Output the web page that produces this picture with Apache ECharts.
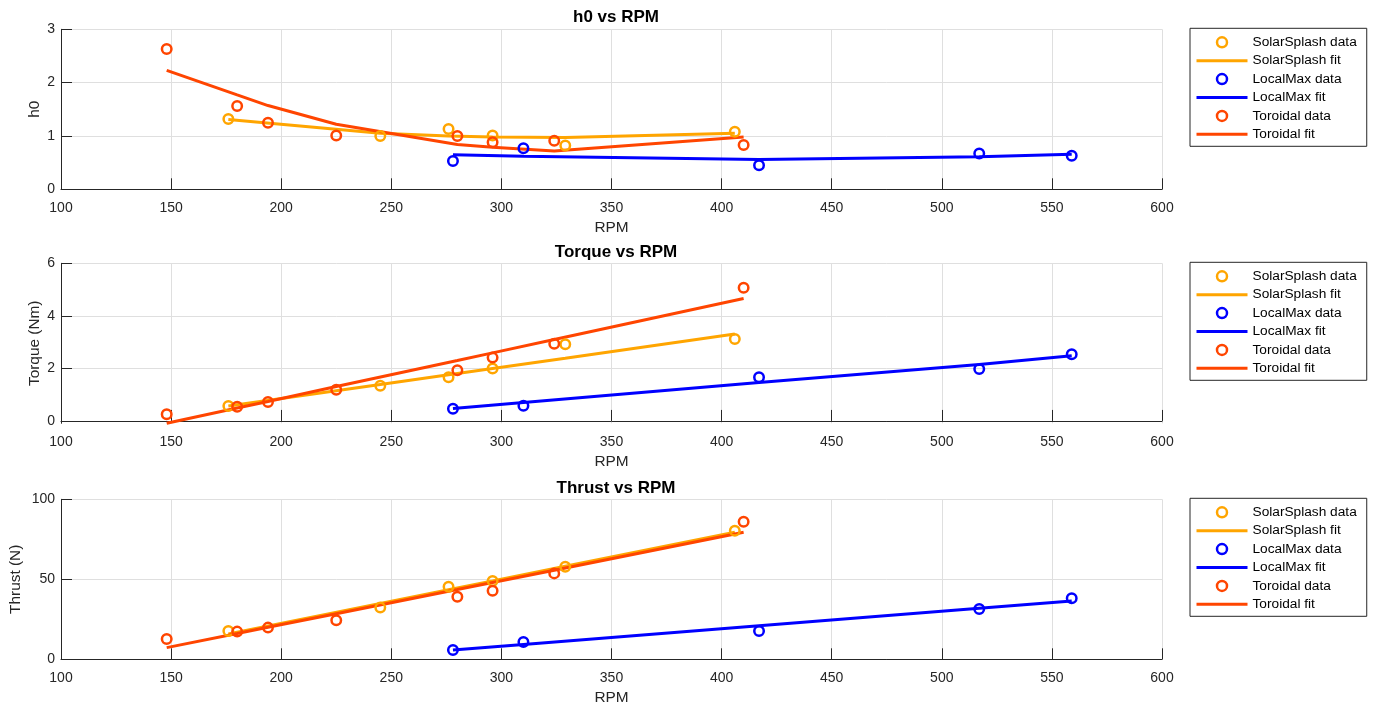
<!DOCTYPE html>
<html>
<head>
<meta charset="utf-8">
<title>h0, Torque and Thrust vs RPM</title>
<script src="https://cdn.jsdelivr.net/npm/echarts@6/dist/echarts.min.js"></script>
<style>
  html, body { margin: 0; padding: 0; background: #ffffff; }
  #chart { width: 1373px; height: 709px; }
</style>
</head>
<body>
<div id="chart"></div>
<script>
// ---- measured data ----
const rpmSolar = [176, 245, 276, 296, 329, 406];
const rpmLocal = [278, 310, 417, 517, 559];
const rpmToroidal = [148, 180, 194, 225, 280, 296, 324, 410];

const h0Solar = [1.32, 1.00, 1.13, 1.01, 0.82, 1.08];
const h0SolarFit = [1.31, 1.05, 1.00, 0.98, 0.97, 1.05];
const h0Local = [0.53, 0.77, 0.45, 0.67, 0.63];
const h0LocalFit = [0.65, 0.62, 0.56, 0.61, 0.655];
const h0Toroidal = [2.63, 1.56, 1.25, 1.01, 1.00, 0.88, 0.91, 0.83];
const h0ToroidalFit = [2.23, 1.77, 1.57, 1.22, 0.84, 0.79, 0.72, 0.98];

const torqueSolar = [0.57, 1.34, 1.66, 2.00, 2.92, 3.12];
const torqueSolarFit = [0.57, 1.39, 1.76, 2.00, 2.39, 3.31];
const torqueLocal = [0.46, 0.58, 1.66, 1.98, 2.54];
const torqueLocalFit = [0.47, 0.70, 1.46, 2.15, 2.48];
const torqueToroidal = [0.25, 0.54, 0.72, 1.19, 1.93, 2.41, 2.94, 5.07];
const torqueToroidalFit = [-0.09, 0.49, 0.74, 1.31, 2.30, 2.59, 3.10, 4.66];

const thrustSolar = [17.7, 32.3, 45.4, 48.9, 57.9, 80.4];
const thrustSolarFit = [15.8, 34.9, 43.5, 49.0, 58.2, 79.5];
const thrustLocal = [5.8, 10.8, 17.7, 31.4, 38.1];
const thrustLocalFit = [5.8, 9.3, 20.9, 31.9, 36.4];
const thrustToroidal = [12.7, 17.3, 19.8, 24.4, 39.1, 42.9, 53.7, 86.0];
const thrustToroidalFit = [7.3, 16.1, 20.0, 28.5, 43.6, 48.0, 55.7, 79.4];

const panelTitles = ['h0 vs RPM', 'Torque vs RPM', 'Thrust vs RPM'];
const yNames = ['h0', 'Torque (Nm)', 'Thrust (N)'];
const yTicks = [[0, 1, 2, 3], [0, 2, 4, 6], [0, 50, 100]];

// ---- styling ----
const FONT = '"Liberation Sans", Arial, Helvetica, sans-serif';
const INK = '#262626';
const GRID = '#dfdfdf';
const C_SOLAR = '#FFA500';
const C_LOCAL = '#0000FF';
const C_TOR = '#FF4500';

const gridTops = [29.3, 263.3, 499.3];
const gridH = 160;
const titleTops = [4, 239.3, 475.3];
const yRanges = [[0, 3], [-0.09, 6], [0, 100]];
const yNameGaps = [19, 19, 38];

function zip(xs, ys) { return xs.map((x, i) => [x, ys[i]]); }

const panels = [
  { data: [h0Solar, h0Local, h0Toroidal], fit: [h0SolarFit, h0LocalFit, h0ToroidalFit] },
  { data: [torqueSolar, torqueLocal, torqueToroidal], fit: [torqueSolarFit, torqueLocalFit, torqueToroidalFit] },
  { data: [thrustSolar, thrustLocal, thrustToroidal], fit: [thrustSolarFit, thrustLocalFit, thrustToroidalFit] }
];
const groups = [
  { name: 'SolarSplash', rpm: rpmSolar, color: C_SOLAR },
  { name: 'LocalMax', rpm: rpmLocal, color: C_LOCAL },
  { name: 'Toroidal', rpm: rpmToroidal, color: C_TOR }
];

const grids = [], xAxes = [], yAxes = [], series = [], titles = [], legends = [];

const legendData = [];
groups.forEach(g => {
  legendData.push({
    name: g.name + ' data', icon: 'circle',
    itemStyle: { color: 'rgba(0,0,0,0)', borderColor: g.color, borderWidth: 2.5, opacity: 1 }
  });
  legendData.push({
    name: g.name + ' fit',
    itemStyle: { opacity: 0 },
    lineStyle: { color: g.color, width: 3 }
  });
});

panels.forEach((p, k) => {
  grids.push({ left: 61, width: 1101, top: gridTops[k], height: gridH, containLabel: false, outerBoundsMode: 'none' });
  titles.push({
    text: panelTitles[k], left: 611, top: titleTops[k], textAlign: 'center',
    textStyle: { fontFamily: FONT, fontSize: 17, fontWeight: 'bold', color: '#000' }
  });
  xAxes.push({
    gridIndex: k, type: 'value', min: 100, max: 600, interval: 50,
    name: 'RPM', nameLocation: 'middle', nameGap: 31, nameMoveOverlap: false,
    nameTextStyle: { fontFamily: FONT, fontSize: 15.4, color: INK },
    axisLine: { show: true, lineStyle: { color: INK, width: 1 } },
    axisTick: { show: true, inside: true, length: 11, lineStyle: { color: INK } },
    axisLabel: { fontFamily: FONT, fontSize: 14, color: INK, margin: 12 },
    splitLine: { show: true, lineStyle: { color: GRID, width: 1 } }
  });
  yAxes.push({
    gridIndex: k, type: 'value', min: yRanges[k][0], max: yRanges[k][1],
    name: yNames[k], nameLocation: 'middle', nameGap: yNameGaps[k], nameRotate: 90,
    nameMoveOverlap: false,
    nameTextStyle: { fontFamily: FONT, fontSize: 15.4, color: INK },
    axisLine: { show: true, lineStyle: { color: INK, width: 1 } },
    axisTick: { show: true, inside: true, length: 11, lineStyle: { color: INK }, customValues: yTicks[k] },
    axisLabel: { fontFamily: FONT, fontSize: 14, color: INK, margin: 6, customValues: yTicks[k] },
    splitLine: { show: true, lineStyle: { color: GRID, width: 1 } }
  });
  legends.push({
    orient: 'vertical', left: 1190, top: gridTops[k] - 1,
    padding: [7, 10, 5, 5], itemGap: 4.4, itemWidth: 51, itemHeight: 10,
    backgroundColor: '#ffffff', borderColor: INK, borderWidth: 1, borderRadius: 0,
    selectedMode: false,
    textStyle: { fontFamily: FONT, fontSize: 13.7, color: '#000', lineHeight: 12 },
    data: legendData
  });
  groups.forEach((g, gi) => {
    series.push({
      name: g.name + ' data', type: 'scatter', xAxisIndex: k, yAxisIndex: k,
      symbol: 'circle', symbolSize: 9.5,
      itemStyle: { color: 'rgba(0,0,0,0)', borderColor: g.color, borderWidth: 2.5, opacity: 1 },
      data: zip(g.rpm, p.data[gi]), z: 2, silent: true
    });
    series.push({
      name: g.name + ' fit', type: 'line', xAxisIndex: k, yAxisIndex: k,
      symbol: 'none', showSymbol: false, color: g.color, clip: false,
      lineStyle: { color: g.color, width: 3 },
      data: zip(g.rpm, p.fit[gi]), z: 2, silent: true
    });
  });
});

const chart = echarts.init(document.getElementById('chart'), null, { renderer: 'canvas' });
chart.setOption({
  backgroundColor: '#ffffff',
  animation: false,
  title: titles,
  legend: legends,
  grid: grids,
  xAxis: xAxes,
  yAxis: yAxes,
  series: series
});
</script>
</body>
</html>
